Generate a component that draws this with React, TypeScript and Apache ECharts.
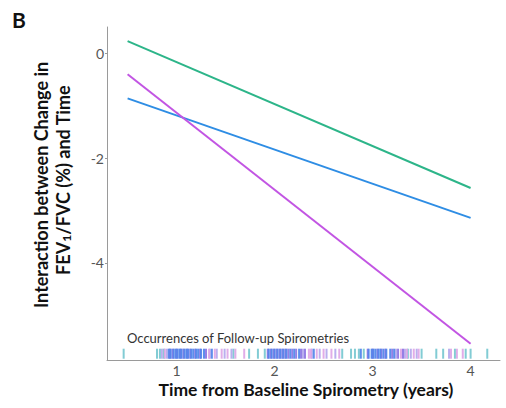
import React, { useEffect, useRef } from "react";
import * as echarts from "echarts";

const lineX = [0.5, 4.0];
const greenY = [0.23, -2.57];
const blueY = [-0.86, -3.14];
const magentaY = [-0.4, -5.54];

const yTicks = [0, -2, -4];
const xTicks = [1, 2, 3, 4];

const rugBlue = [0.92, 0.94, 0.97, 0.99, 1.01, 1.03, 1.05, 1.08, 1.1, 1.12, 1.15, 1.17, 1.2, 1.22, 1.25, 1.28, 1.36, 1.94, 1.97, 2.0, 2.03, 2.06, 2.09, 2.12, 2.16, 2.2, 2.25, 2.4, 2.88, 2.96, 2.99, 3.01, 3.03, 3.06, 3.08, 3.11, 3.14, 3.18, 3.22];
const rugPurple = [0.93, 0.96, 1.0, 1.04, 1.07, 1.11, 1.14, 1.19, 1.24, 1.3, 1.93, 1.96, 1.99, 2.02, 2.05, 2.08, 2.11, 2.14, 2.18, 2.22, 2.27, 2.31, 2.95, 3.0, 3.05, 3.09, 3.13, 3.2, 3.26, 3.31];
const rugPink = [0.88, 1.33, 1.39, 1.46, 1.52, 1.6, 1.69, 2.35, 2.37, 2.43, 2.5, 2.58, 2.66, 3.29, 3.35, 3.42, 3.47, 3.8, 3.86, 3.92];
const rugLavender = [0.85, 0.9, 1.34, 1.41, 1.49, 1.56, 2.29, 2.38, 2.46, 2.53, 2.62, 3.24, 3.33, 3.39, 3.45, 3.78];
const rugTeal = [0.46, 0.8, 0.83, 0.87, 1.58, 1.74, 1.83, 1.9, 2.69, 2.78, 2.82, 2.86, 2.91, 3.36, 3.5, 3.65, 3.72, 3.84, 3.95, 4.0, 4.17];

const RUG_Y = -5.73;

function rugSeries(vals: number[], color: string) {
  return {
    type: "scatter",
    data: vals.map((v) => [v, RUG_Y]),
    symbol: "rect",
    symbolSize: [2, 10],
    itemStyle: { color, opacity: 0.9 },
    silent: true,
    z: 1,
  };
}

function lineSeries(ys: number[], color: string) {
  return {
    type: "line",
    data: lineX.map((x, i) => [x, ys[i]]),
    symbol: "none",
    lineStyle: { color, width: 2 },
    z: 3,
  };
}

export default function App() {
  const ref = useRef<HTMLDivElement>(null);
  useEffect(() => {
    const chart = echarts.init(ref.current!, null, { renderer: "svg" });
    const font = "Lato, 'Open Sans', sans-serif";
    chart.setOption({
      animation: false,
      backgroundColor: "#ffffff",
      textStyle: { fontFamily: font },
      grid: { left: 107, top: 27, right: 6, bottom: 48, containLabel: false },
      xAxis: {
        type: "value",
        min: 0.29,
        max: 4.3,
        axisLine: { show: true, onZero: false, lineStyle: { color: "#9a9a9a", width: 1 } },
        axisTick: { show: false },
        splitLine: { show: false },
        axisLabel: {
          customValues: xTicks,
          color: "#555555",
          fontSize: 14,
          margin: 3,
          fontFamily: font,
        },
      },
      yAxis: {
        type: "value",
        min: -5.85,
        max: 0.5,
        axisLine: { show: true, onZero: false, lineStyle: { color: "#9a9a9a", width: 1 } },
        axisTick: { show: true, customValues: yTicks, length: 2, lineStyle: { color: "#9a9a9a" } },
        splitLine: { show: false },
        axisLabel: {
          customValues: yTicks,
          color: "#555555",
          fontSize: 14,
          margin: 3,
          fontFamily: font,
        },
      },
      series: [
        rugSeries(rugTeal, "#74c6cf"),
        rugSeries(rugLavender, "#b3a6ec"),
        rugSeries(rugPink, "#dea4e6"),
        rugSeries(rugPurple, "#8a72e2"),
        rugSeries(rugBlue, "#4d82ea"),
        lineSeries(greenY, "#2db589"),
        lineSeries(blueY, "#2e8de4"),
        lineSeries(magentaY, "#c255e3"),
      ],
      graphic: [
        {
          type: "text",
          left: 12,
          top: 9,
          style: { text: "B", font: `bold 21px ${font}`, fill: "#111111" },
        },
        {
          type: "text",
          x: 127,
          y: 338,
          style: {
            text: "Occurrences of Follow-up Spirometries",
            font: `13px ${font}`,
            fill: "#333333",
            verticalAlign: "middle",
            align: "left",
          },
        },
        {
          type: "text",
          x: 306,
          y: 389,
          style: {
            text: "Time from Baseline Spirometry (years)",
            font: `bold 17.5px ${font}`,
            fill: "#111111",
            align: "center",
            verticalAlign: "middle",
          },
        },
        {
          type: "text",
          x: 41,
          y: 185,
          rotation: Math.PI / 2,
          style: {
            text: "Interaction between Change in",
            font: `bold 18px ${font}`,
            fill: "#111111",
            align: "center",
            verticalAlign: "middle",
          },
        },
        {
          type: "text",
          x: 63,
          y: 180,
          rotation: Math.PI / 2,
          style: {
            text: "FEV{sub|1}/FVC (%) and Time",
            font: `bold 18px ${font}`,
            fill: "#111111",
            align: "center",
            verticalAlign: "middle",
            rich: {
              sub: { font: `bold 12px ${font}`, fill: "#111111", verticalAlign: "bottom", padding: [7, 0, 0, 0] },
            },
          },
        },
      ],
    });
    return () => chart.dispose();
  }, []);
  return <div ref={ref} style={{ width: 506, height: 408, position: "absolute", left: 0, top: 0 }} />;
}
